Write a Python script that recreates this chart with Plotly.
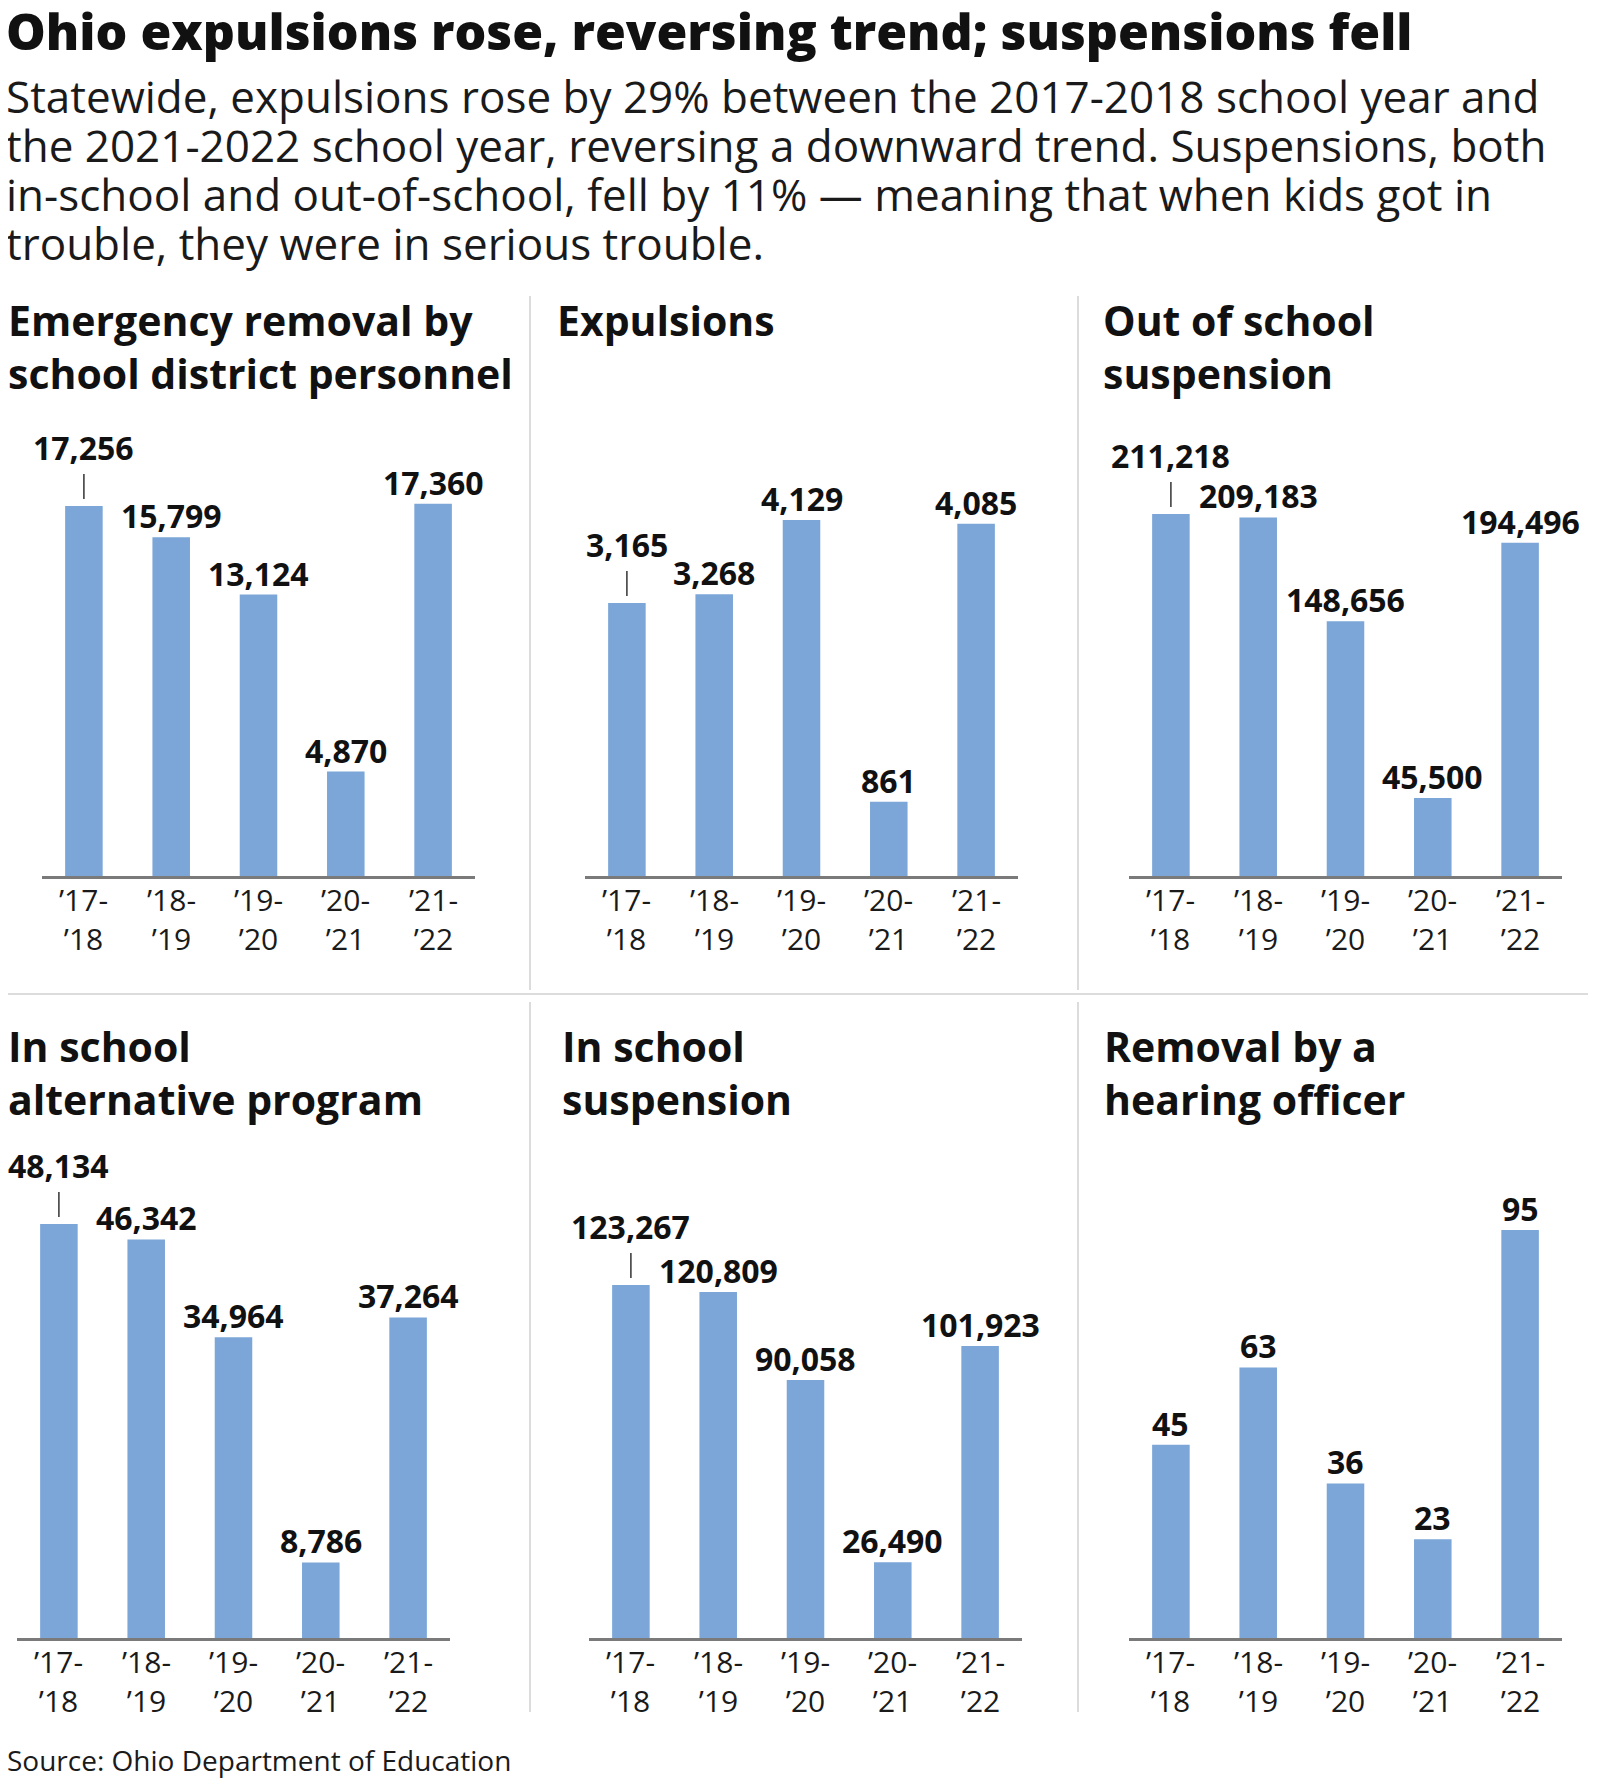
import plotly.graph_objects as go

# ---------------- data ----------------
SEASONS = ["2017-18", "2018-19", "2019-20", "2020-21", "2021-22"]
TICK_LABELS = ["’17-<br>’18", "’18-<br>’19", "’19-<br>’20", "’20-<br>’21", "’21-<br>’22"]

TITLE = "Ohio expulsions rose, reversing trend; suspensions fell"
SUBTITLE = [
    "Statewide, expulsions rose by 29% between the 2017-2018 school year and",
    "the 2021-2022 school year, reversing a downward trend. Suspensions, both",
    "in-school and out-of-school, fell by 11% — meaning that when kids got in",
    "trouble, they were in serious trouble.",
]
SOURCE = "Source: Ohio Department of Education"

PANEL_TITLES = [
    ["Emergency removal by", "school district personnel"],
    ["Expulsions"],
    ["Out of school", "suspension"],
    ["In school", "alternative program"],
    ["In school", "suspension"],
    ["Removal by a", "hearing officer"],
]

emergency_removal = [17256, 15799, 13124, 4870, 17360]
expulsions = [3165, 3268, 4129, 861, 4085]
out_of_school_suspension = [211218, 209183, 148656, 45500, 194496]
in_school_alternative = [48134, 46342, 34964, 8786, 37264]
in_school_suspension = [123267, 120809, 90058, 26490, 101923]
hearing_officer_removal = [45, 63, 36, 23, 95]

SERIES = [emergency_removal, expulsions, out_of_school_suspension,
          in_school_alternative, in_school_suspension, hearing_officer_removal]
# first bar's label raised with a leader line
LEADER = [True, True, True, True, True, False]

# ---------------- layout constants ----------------
W, H = 1600, 1784
OFF = 8  # default page body margin of the html page
FONT = "Open Sans"
INK = "#111111"
BAR = "#7BA6D7"

X_DOM = [(42, 475), (585, 1018), (1129, 1562), (17, 450), (589, 1022), (1129, 1562)]
Y_DOM = [(420, 876)] * 3 + [(1182, 1638)] * 3
Y_MAX = [21267, 5289, 266064, 53017, 159233, 106.2]
TITLE_POS = [(6, 337), (555, 337), (1101, 337), (6, 1063), (560, 1063), (1102, 1063)]


def xf(px):
    return (px - OFF) / W


def yf(py):
    return 1 - (py - OFF) / H


def ybot(baseline, size):
    # paper y of the bottom of a text box whose baseline is at `baseline` px
    return yf(baseline + 0.293 * size + 1)


fig = go.Figure()
annotations = []
shapes = []

for i, vals in enumerate(SERIES):
    n = i + 1
    xa, ya = f"x{n}", f"y{n}"
    fig.add_trace(go.Bar(
        x=SEASONS, y=vals, xaxis=xa, yaxis=ya,
        marker=dict(color=BAR, line=dict(width=0)),
        width=0.43, hoverinfo="skip",
    ))
    x0, x1 = X_DOM[i]
    y0, y1 = Y_DOM[i]
    fig.layout[f"xaxis{n}"] = dict(
        domain=[xf(x0), xf(x1)], anchor=ya, type="category",
        range=[-0.48, 4.48], showline=True, linecolor="#7a7a7a", linewidth=2.5,
        showgrid=False, zeroline=False, ticks="", showticklabels=False,
    )
    fig.layout[f"yaxis{n}"] = dict(
        domain=[yf(y1), yf(y0)], anchor=xa, range=[0, Y_MAX[i]],
        visible=False, showgrid=False, zeroline=False,
    )
    for j, v in enumerate(vals):
        # category tick labels under the axis line
        annotations.append(dict(
            x=SEASONS[j], y=0, xref=xa, yref=ya, text=TICK_LABELS[j],
            showarrow=False, xanchor="center", yanchor="top", yshift=-1,
            font=dict(family=FONT, size=30, color="#1a1a1a"),
        ))
        raised = LEADER[i] and j == 0
        annotations.append(dict(
            x=SEASONS[j], y=v, xref=xa, yref=ya, text=f"{v:,}", showarrow=False,
            xanchor="center", yanchor="bottom", yshift=(35 if raised else -2),
            font=dict(family=FONT, size=32, color=INK, weight=700),
        ))
        if raised:
            shapes.append(dict(
                type="line", xref=xa, yref=ya, x0=j, x1=j,
                ysizemode="pixel", yanchor=v, y0=7, y1=32,
                line=dict(color="#333333", width=1.5),
            ))
    # panel titles
    tx, tb = TITLE_POS[i]
    for k, line in enumerate(PANEL_TITLES[i]):
        annotations.append(dict(
            x=xf(tx), y=ybot(tb + 53 * k, 41), xref="paper", yref="paper",
            text=line, showarrow=False, xanchor="left", yanchor="bottom",
            font=dict(family=FONT, size=41, color=INK, weight=700),
        ))

# main title / subtitle / source
annotations.append(dict(
    x=xf(4), y=ybot(51, 50), xref="paper", yref="paper", text=TITLE,
    showarrow=False, xanchor="left", yanchor="bottom",
    font=dict(family=FONT, size=50, color=INK, weight=800),
))
for k, line in enumerate(SUBTITLE):
    annotations.append(dict(
        x=xf(4), y=ybot(114 + 49 * k, 44), xref="paper", yref="paper", text=line,
        showarrow=False, xanchor="left", yanchor="bottom",
        font=dict(family=FONT, size=44, color="#1a1a1a"),
    ))
annotations.append(dict(
    x=xf(5), y=ybot(1772, 28), xref="paper", yref="paper", text=SOURCE,
    showarrow=False, xanchor="left", yanchor="bottom",
    font=dict(family=FONT, size=28, color="#1a1a1a"),
))

# divider lines
DIV = "#dcdcdc"
for xpx in (530, 1078):
    shapes.append(dict(type="line", xref="paper", yref="paper",
                       x0=xf(xpx), x1=xf(xpx), y0=yf(296), y1=yf(990),
                       line=dict(color=DIV, width=2)))
    shapes.append(dict(type="line", xref="paper", yref="paper",
                       x0=xf(xpx), x1=xf(xpx), y0=yf(1002), y1=yf(1712),
                       line=dict(color=DIV, width=2)))
shapes.append(dict(type="line", xref="paper", yref="paper",
                   x0=xf(6), x1=xf(1588), y0=yf(994), y1=yf(994),
                   line=dict(color=DIV, width=2)))

fig.update_layout(
    width=W, height=H, margin=dict(l=0, r=0, t=0, b=0),
    paper_bgcolor="white", plot_bgcolor="white", showlegend=False,
    annotations=annotations, shapes=shapes,
)

fig.write_html("out.html")
